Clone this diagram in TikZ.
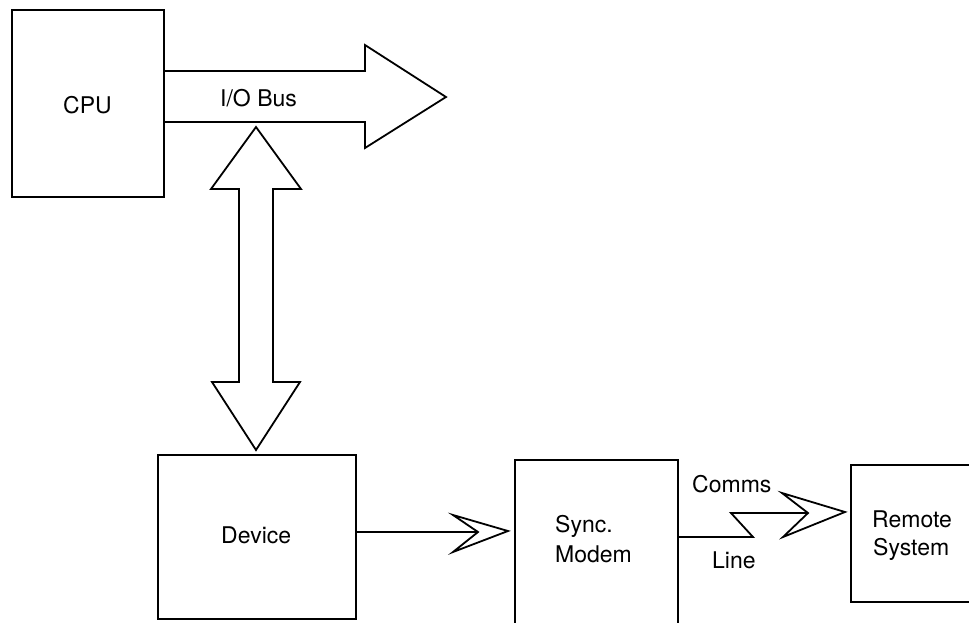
\documentclass[tikz,border=0pt]{standalone}
\usepackage{fontspec}
\setmainfont{TeX Gyre Heros}
\begin{document}
\begin{tikzpicture}[x=1pt,y=-1pt,line join=miter,
  box/.style={draw,line width=1.6pt,inner sep=0pt},
  lbl/.style={font=\fontsize{23}{28}\selectfont,inner sep=0pt,anchor=base west},
  wire/.style={line width=1.8pt}]
\useasboundingbox (0,0) rectangle (969,622);
% boxes
\node[box,minimum width=152pt,minimum height=187pt,anchor=north west] (cpu) at (11,9) {};
\node[box,minimum width=198pt,minimum height=164pt,anchor=north west] (device) at (157,454) {};
\node[box,minimum width=163pt,minimum height=190pt,anchor=north west] (modem) at (514,459) {};
\node[box,minimum width=160pt,minimum height=137pt,anchor=north west] (remote) at (850,464) {};
% labels
\node[lbl] (cputxt) at (63,113) {CPU};
\node[lbl] (bustxt) at (220,106) {I/O Bus};
\node[lbl] (devtxt) at (221,543) {Device};
\node[lbl] (sync) at (555,532) {Sync.};
\node[lbl] (modemtxt) at (555,562) {Modem};
\node[lbl] (comms) at (692,492) {Comms};
\node[lbl] (line) at (712,568) {Line};
\node[lbl] (remtxt) at (872,527) {Remote};
\node[lbl] (systxt) at (873,555) {System};
% I/O bus arrow
\coordinate (bustip) at (446,97);
\draw[wire] (cpu.east |- 0,71) -- (365,71) -- (365,45) -- (bustip) -- (365,148) -- (365,122) -- (cpu.east |- 0,122);
% double arrow bus <-> device
\coordinate (uptip) at (256,127);
\coordinate (dntip) at (256,450);
\draw[wire] (uptip) -- (301,189) -- (273,189) -- (273,382) -- (300,382) -- (dntip) -- (212,382) -- (239,382) -- (239,189) -- (211,189) -- cycle;
% device -> modem
\coordinate (devnotch) at (478,532);
\draw[wire] (device.east |- devnotch) -- (devnotch);
\draw[wire] (devnotch) -- (453,515) -- (508,531) -- (453,552) -- cycle;
% modem -> remote (comms line)
\coordinate (comnotch) at (808,513);
\draw[wire] (modem.east |- 0,537) -- (753,537) -- (731,513) -- (comnotch);
\draw[wire] (comnotch) -- (782,493) -- (845,512) -- (783,537) -- cycle;
\end{tikzpicture}
\end{document}
